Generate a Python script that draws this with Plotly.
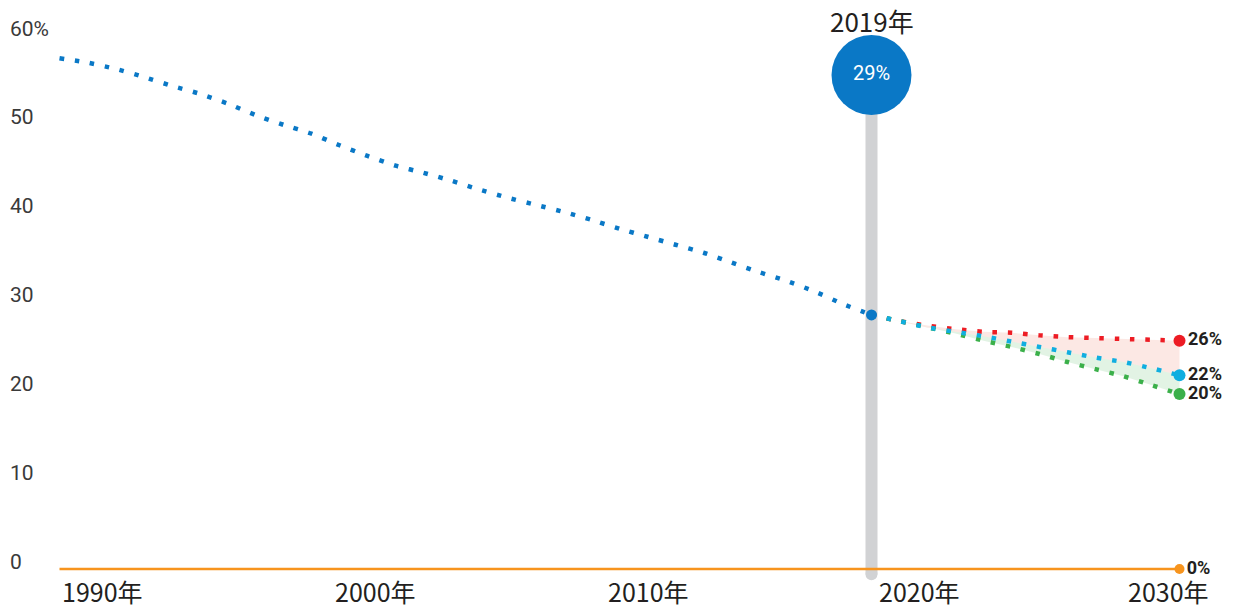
import plotly.graph_objects as go

# ---------------- data ----------------
hist_years = list(range(1990, 2020))
hist_values = [57.5, 57.0, 56.3, 55.4, 54.4, 53.5, 52.4, 51.1, 50.0, 49.0,
               47.7, 46.5, 45.4, 44.6, 43.7, 42.7, 41.8, 41.0, 40.2, 39.3,
               38.3, 37.4, 36.5, 35.6, 34.5, 33.4, 32.4, 31.2, 29.8, 28.6]

proj_years = list(range(2019, 2031))
proj_high = [28.6, 27.9, 27.4, 27.0, 26.7, 26.6, 26.3, 26.1, 26.0, 25.9, 25.8, 25.7]
proj_mid = [28.6, 27.9, 27.2, 26.7, 26.2, 25.6, 25.0, 24.4, 23.8, 23.3, 22.6, 21.8]
proj_low = [28.6, 27.9, 27.2, 26.5, 25.7, 25.0, 24.2, 23.3, 22.5, 21.7, 20.7, 19.7]
zero_years = [1990, 2030]
zero_values = [0, 0]

end_labels = ["26%", "22%", "20%", "0%"]
highlight_year = 2019
highlight_label = "29%"
highlight_title = "2019年"
bubble_level = 55.6

y_ticks = [0, 10, 20, 30, 40, 50, 60]
y_ticktext = ["0", "10", "20", "30", "40", "50", "60%"]
x_label_text = ["1990年", "2000年", "2010年", "2020年", "2030年"]
x_label_pos = [1990.0, 1999.77, 2009.5, 2019.2, 2028.1]

# ---------------- styles ----------------
BLUE = "#0a78c6"
RED = "#ed1c24"
CYAN = "#10aee0"
GREEN = "#3bb04a"
ORANGE = "#f7941d"
GREY = "#d1d2d4"
TXT = "#231f20"
NARROW = "Roboto, Liberation Sans Narrow, sans-serif"
CJK = "Noto Sans CJK SC, Noto Sans, sans-serif"
DOT = "4.5px,10.8px"

fig = go.Figure()

# grey vertical bar at highlight year
fig.add_trace(go.Scatter(x=[highlight_year, highlight_year], y=[bubble_level, -0.6],
                         mode="lines", line=dict(color=GREY, width=12),
                         hoverinfo="skip", showlegend=False))
fig.add_trace(go.Scatter(x=[highlight_year], y=[-0.6], mode="markers",
                         marker=dict(color=GREY, size=12), hoverinfo="skip", showlegend=False))

# fills
fig.add_trace(go.Scatter(x=proj_years, y=proj_mid, mode="lines", line=dict(width=0),
                         hoverinfo="skip", showlegend=False))
fig.add_trace(go.Scatter(x=proj_years, y=proj_high, mode="lines", line=dict(width=0),
                         fill="tonexty", fillcolor="rgba(240,120,95,0.17)",
                         hoverinfo="skip", showlegend=False))
fig.add_trace(go.Scatter(x=proj_years, y=proj_mid, mode="lines", line=dict(width=0),
                         hoverinfo="skip", showlegend=False))
fig.add_trace(go.Scatter(x=proj_years, y=proj_low, mode="lines", line=dict(width=0),
                         fill="tonexty", fillcolor="rgba(60,176,74,0.15)",
                         hoverinfo="skip", showlegend=False))

# zero line
fig.add_trace(go.Scatter(x=zero_years, y=zero_values, mode="lines",
                         line=dict(color=ORANGE, width=2.5), showlegend=False))

# dotted series
fig.add_trace(go.Scatter(x=hist_years, y=hist_values, mode="lines",
                         line=dict(color=BLUE, width=4.5, dash=DOT, shape="spline", smoothing=0.6),
                         showlegend=False))
for vals, col in [(proj_high, RED), (proj_low, GREEN), (proj_mid, CYAN)]:
    fig.add_trace(go.Scatter(x=proj_years, y=vals, mode="lines",
                             line=dict(color=col, width=4.5, dash=DOT, shape="spline", smoothing=0.6),
                             showlegend=False))

# end markers + labels
ends = [(proj_high[-1], RED), (proj_mid[-1], CYAN), (proj_low[-1], GREEN), (zero_values[-1], ORANGE)]
for (val, col), lab in zip(ends, end_labels):
    fig.add_trace(go.Scatter(x=[proj_years[-1]], y=[val], mode="markers+text",
                             marker=dict(color=col, size=12 if col != ORANGE else 10),
                             text=[lab], textposition="middle right",
                             textfont=dict(family=NARROW, size=18, color=TXT, weight="bold"),
                             showlegend=False))

# highlight dot and bubble
fig.add_trace(go.Scatter(x=[highlight_year], y=[hist_values[-1]], mode="markers",
                         marker=dict(color=BLUE, size=11), showlegend=False))
fig.add_trace(go.Scatter(x=[highlight_year], y=[bubble_level], mode="markers+text",
                         marker=dict(color=BLUE, size=80), text=[highlight_label],
                         textposition="middle center",
                         textfont=dict(family=NARROW, size=20, color="white"),
                         showlegend=False))

fig.add_annotation(x=highlight_year, y=bubble_level, yshift=55, text=highlight_title,
                   showarrow=False, font=dict(family=CJK, size=26, color=TXT),
                   xanchor="center", yanchor="middle")

for pos, txt in zip(x_label_pos, x_label_text):
    fig.add_annotation(x=pos, y=-2.45, text=txt, showarrow=False, xanchor="left",
                       yanchor="middle", font=dict(family=CJK, size=25, color=TXT))

fig.update_layout(
    width=1236, height=609,
    margin=dict(l=0, r=0, t=0, b=0),
    paper_bgcolor="white", plot_bgcolor="white",
    xaxis=dict(range=[1987.875, 2032.018], visible=False, fixedrange=True),
    yaxis=dict(range=[-4.5, 64.05], tickvals=y_ticks, ticktext=y_ticktext,
               ticklabelposition="inside top", ticklabelstandoff=7, ticklabelshift=7,
               showgrid=False, zeroline=False, fixedrange=True,
               showline=False, ticks="", tickfont=dict(family=NARROW, size=21, color="#3a3a3a")),
    showlegend=False,
)

fig.write_html("out.html", config={"displayModeBar": False},
               post_script="document.body.style.margin='0';document.body.style.overflow='hidden';")
